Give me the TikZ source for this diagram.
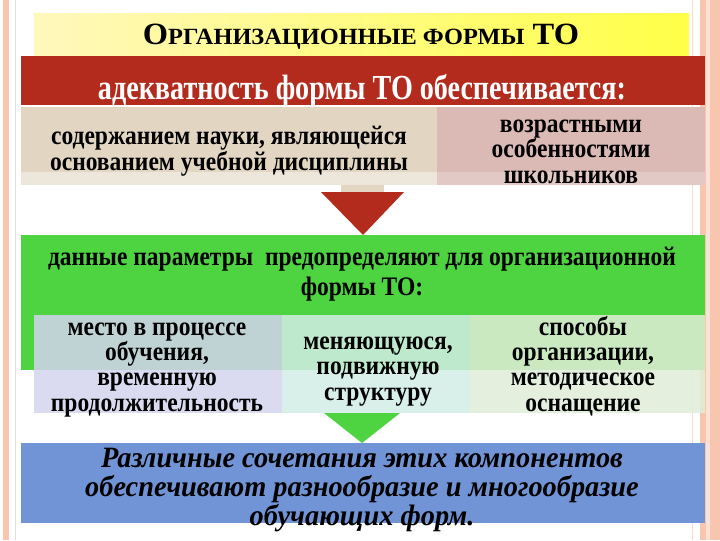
\documentclass[tikz,border=0pt]{standalone}
\usepackage{fontspec}
\setmainfont{Liberation Serif}
\newfontfamily\slim{Liberation Serif}[FakeStretch=0.8]
\newfontfamily\body{Liberation Serif}[FakeStretch=0.88]
\newfontfamily\wide{Liberation Serif}[FakeStretch=1.05]
\newfontfamily\slant{Liberation Serif}[FakeStretch=0.96]
\usetikzlibrary{positioning}
\definecolor{peach}{HTML}{F8C6AE}
\definecolor{paleyellow}{HTML}{FFF8BC}
\definecolor{brightyellow}{HTML}{FFFF48}
\definecolor{darkred}{HTML}{B22B1C}
\definecolor{beige}{HTML}{E2D6C3}
\definecolor{lightbeige}{HTML}{EDE6DA}
\definecolor{rosy}{HTML}{DBB9B5}
\definecolor{lightrosy}{HTML}{E3C9C6}
\definecolor{brightgreen}{HTML}{4ED341}
\definecolor{lavender}{HTML}{D4D4EE}
\definecolor{mint}{HTML}{D2EEE6}
\definecolor{palegreen}{HTML}{E0EED8}
\definecolor{cornflower}{HTML}{7194D6}

\begin{document}
\begin{tikzpicture}[x=0.025cm,y=-0.025cm,
  panel/.style={anchor=north west,inner sep=0pt,outer sep=0pt},
  part/.style={panel,fill opacity=0.85,minimum height=2.45cm},
  lbl/.style={align=center,inner sep=0pt,anchor=base,
    font=\body\bfseries\fontsize{19}{18}\selectfont}]
\useasboundingbox (0,0) rectangle (720,540);
%%Slide
\fill[white] (0,0) rectangle (720,540);
\fill[peach] (3,0) rectangle (9,540);
\draw[black!12] (15,0) -- (15,540);
\draw[peach!60] (692,0) -- (692,540);
\fill[peach] (700,0) rectangle (720,540);
\fill[peach!50] (706,0) rectangle (710,540);
%%Boxes
\node[panel,minimum width=16.375cm,minimum height=1.05cm,
  left color=paleyellow,right color=brightyellow] (title) at (34,13) {};
\node[panel,fill=darkred,minimum width=17.1cm,minimum height=1.225cm] (adeq) at (21,56) {};
\node[panel,fill=lightbeige,minimum width=10.4cm,minimum height=1.95cm] (science) at (21,107) {};
\fill[beige] (science.north west) rectangle ([yshift=0.325cm]science.south east);
\node[panel,fill=lightrosy,minimum width=6.7cm,minimum height=1.95cm] (age) at (437,107) {};
\fill[rosy] (age.north west) rectangle ([yshift=0.325cm]age.south east);
\node[panel,fill=brightgreen,minimum width=17.1cm,minimum height=3.375cm] (params) at (21,235) {};
\node[part,fill=lavender,minimum width=6.2cm] (place) at (34,315) {};
\node[part,fill=mint,minimum width=4.7cm] (moving) at (282,315) {};
\node[part,fill=palegreen,minimum width=5.875cm] (ways) at (470,315) {};
\node[panel,fill=cornflower,minimum width=17.1cm,minimum height=2cm] (combo) at (21,443) {};
%%Arrows
\fill[beige] (341,185) rectangle (384,192);
\fill[darkred] (321,192) -- (404,192) -- (params.north -| 363,0) -- cycle;
\fill[brightgreen] (324,413) -- (400,413) -- (combo.north -| 362,0) -- cycle;
%%Label
\node[anchor=base,inner sep=0pt,font=\wide\bfseries\fontsize{22}{22}\selectfont] at (361,44)
  {О{\fontsize{16.5}{16.5}\selectfont РГАНИЗАЦИОННЫЕ ФОРМЫ} ТО};
\node[lbl,text=white,font=\slim\bfseries\fontsize{25}{25}\selectfont] at (362,99)
  {адекватность формы ТО обеспечивается:};
\node[lbl] at (229,170) {содержанием науки, являющейся\\основанием учебной дисциплины};
\node[lbl] at (571,183) {возрастными\\особенностями\\школьников};
\node[lbl,font=\body\bfseries\fontsize{19}{21}\selectfont] at (362,295)
  {данные параметры \ предопределяют для организационной\\формы ТО:};
\node[lbl] at (157,411) {место в процессе\\обучения,\\временную\\продолжительность};
\node[lbl] at (378,400) {меняющуюся,\\подвижную\\структуру};
\node[lbl] at (583,411) {способы\\организации,\\методическое\\оснащение};
\node[lbl,font=\slant\bfseries\itshape\fontsize{21}{20.5}\selectfont] at (362,525)
  {Различные сочетания этих компонентов\\обеспечивают разнообразие и многообразие\\обучающих форм.};
\end{tikzpicture}
\end{document}
